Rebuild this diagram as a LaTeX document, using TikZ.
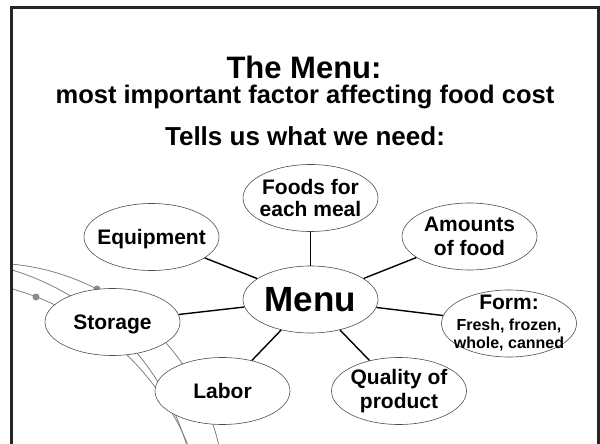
\documentclass[tikz,border=0pt]{standalone}
\usepackage{fontspec}
\setmainfont{Liberation Sans}
\usetikzlibrary{shapes.geometric}

\begin{document}
\begin{tikzpicture}[
  x=1pt, y=-1pt,
  oval/.style={draw=black!70, line width=0.6pt, ellipse, fill=white, align=center, inner sep=-8pt, minimum width=135pt, minimum height=67pt, font=\fontsize{21}{24}\selectfont\bfseries},
  solo/.style={oval, text depth=0pt},
  head/.style={anchor=base, font=\fontsize{26}{26}\selectfont\bfseries},
  spoke/.style={line width=1.4pt},
  swirl/.style={draw=black!50, line width=0.8pt},
  bead/.style={circle, fill=black!45, inner sep=0pt, minimum size=7pt}
]
\useasboundingbox (0,0) rectangle (600,444);
% swirls of the slide background
\begin{scope}
  \clip (11,7) rectangle (598,444);
  \draw[swirl] (-11,499) circle[radius=236];
  \draw[swirl] (-64.6,521) circle[radius=262.4];
  \draw[swirl] (-59.3,546.5) circle[radius=267.2];
\end{scope}
\node[bead] (bead1) at (36,297) {};
\node[bead] (bead2) at (97,289) {};
% slide frame
\draw[line width=3pt, black!85] (11,7.5) rectangle (598,470);

% headings
\node[head, font=\fontsize{31}{31}\selectfont\bfseries] (title) at (304,78) {The Menu:};
\node[head, font=\fontsize{25.5}{26}\selectfont\bfseries] (sub) at (305,103) {most important factor affecting food cost};
\node[head] (need) at (305,145) {Tells us what we need:};

% the menu and what it tells us
\node[solo, font=\fontsize{35}{35}\selectfont\bfseries] (menu) at (310.5,299.5) {Menu};
\node[oval, font=\fontsize{21}{22}\selectfont\bfseries] (foods) at (310.5,198) {Foods for\\each meal};
\node[solo] (equip) at (151.5,237) {Equipment};
\node[oval] (amounts) at (469.5,236.5) {Amounts\\of food};
\node[solo] (storage) at (112.5,322) {Storage};
\node[oval, font=\fontsize{16}{18}\selectfont\bfseries] (form) at (509,323.5) {{\fontsize{21}{21}\selectfont Form:}\\[3pt]Fresh, frozen,\\whole, canned};
\node[solo] (labor) at (222.5,391) {Labor};
\node[oval] (quality) at (399,391) {Quality of\\product};

\draw[spoke] (menu) -- (foods);
\draw[spoke] (menu) -- (equip);
\draw[spoke] (menu) -- (amounts);
\draw[spoke] (menu) -- (storage);
\draw[spoke] (menu) -- (form);
\draw[spoke] (menu) -- (labor);
\draw[spoke] (menu) -- (quality);
\end{tikzpicture}
\end{document}
